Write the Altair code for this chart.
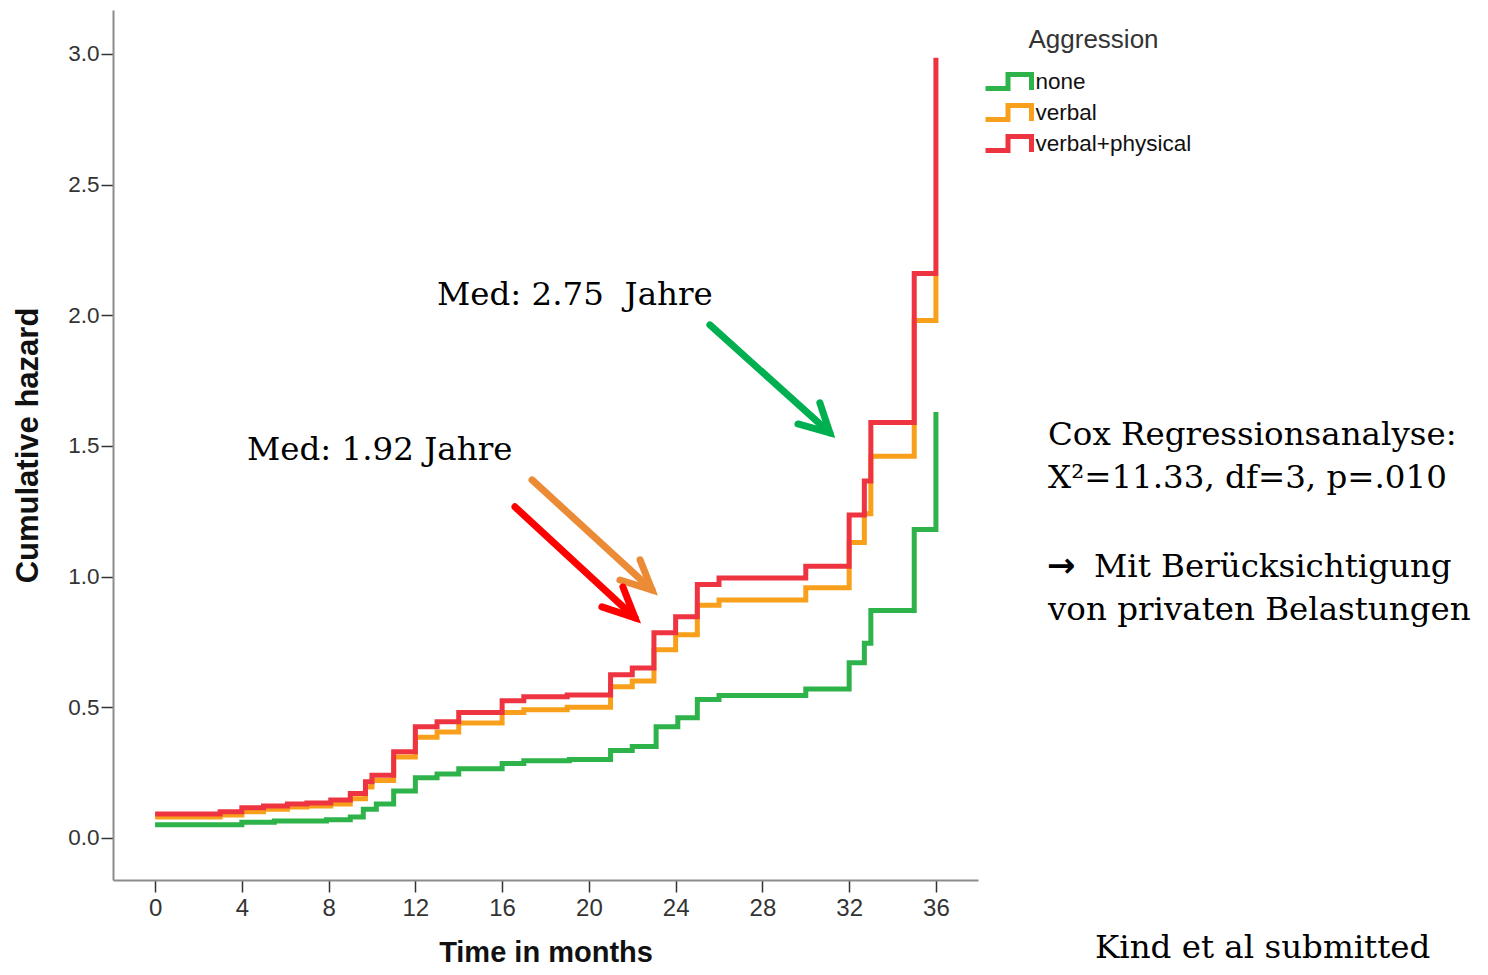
import altair as alt
import pandas as pd

# ---------------- data ----------------
series = ["none", "verbal", "verbal+physical"]
series_colors = ["#2eb34b", "#f8a01c", "#ee3440"]

none_t = [0, 4.0, 5.5, 7.9, 9.0, 9.6, 10.2, 11.0, 12.0, 13.0, 14.0, 16.0, 17.0,
          19.1, 21.0, 22.0, 23.1, 24.1, 25.0, 26.0, 30.0, 32.0, 32.7, 33.0, 35.0, 36.0]
none_v = [0.05, 0.06, 0.065, 0.07, 0.08, 0.11, 0.13, 0.18, 0.23, 0.245, 0.265, 0.285, 0.295,
          0.30, 0.335, 0.35, 0.425, 0.46, 0.53, 0.545, 0.57, 0.67, 0.745, 0.87, 1.18, 1.63]

verbal_t = [0, 3.0, 4.0, 5.0, 6.1, 7.0, 8.1, 9.0, 9.7, 10.0, 11.0, 12.0, 13.0, 14.0, 16.0,
            17.0, 19.0, 21.0, 22.0, 23.0, 24.0, 25.0, 26.0, 30.0, 32.0, 32.7, 33.0, 35.0, 36.0]
verbal_v = [0.08, 0.088, 0.10, 0.11, 0.118, 0.122, 0.13, 0.15, 0.195, 0.22, 0.31, 0.385, 0.405,
            0.44, 0.48, 0.49, 0.50, 0.578, 0.60, 0.72, 0.777, 0.89, 0.91, 0.957, 1.13, 1.24,
            1.46, 1.98, 2.15]

vp_t = [0, 3.0, 4.0, 5.0, 6.1, 7.0, 8.1, 9.0, 9.7, 10.0, 11.0, 12.0, 13.0, 14.0, 16.0,
        17.0, 19.0, 21.0, 22.0, 23.0, 24.0, 25.0, 26.0, 30.0, 32.0, 32.7, 33.0, 35.0, 36.0]
vp_v = [0.092, 0.10, 0.115, 0.122, 0.13, 0.134, 0.145, 0.17, 0.215, 0.24, 0.33, 0.425, 0.445,
        0.48, 0.525, 0.54, 0.547, 0.624, 0.65, 0.785, 0.846, 0.97, 0.995, 1.04, 1.236, 1.366,
        1.59, 2.16, 2.985]

x_ticks = [0, 4, 8, 12, 16, 20, 24, 28, 32, 36]
y_ticks = [0.0, 0.5, 1.0, 1.5, 2.0, 2.5, 3.0]

# annotation arrows (data coordinates): shaft start, tip, two barb ends
arrow_names = ["green", "orange", "red"]
arrow_colors = ["#00b050", "#ec8b36", "#ff0000"]
arrow_start_t = [25.58, 17.38, 16.59]
arrow_start_v = [1.963, 1.370, 1.267]
arrow_tip_t = [31.11, 22.91, 22.13]
arrow_tip_v = [1.550, 0.949, 0.842]
arrow_barb1_t = [30.65, 22.36, 21.57]
arrow_barb1_v = [1.665, 1.064, 0.960]
arrow_barb2_t = [29.64, 21.43, 20.60]
arrow_barb2_v = [1.584, 0.987, 0.884]

ann_text = ["Med: 2.75\u00a0\u00a0Jahre", "Med: 1.92 Jahre", "Cox Regressionsanalyse:",
            "X\u00b2=11.33, df=3, p=.010", "Mit Berücksichtigung",
            "von privaten Belastungen", "Kind et al submitted"]
ann_left = [437, 247, 1048, 1048, 1094, 1048, 1095]
ann_base = [305, 460, 445, 488, 577, 620, 958]

arrow_glyph = "\u2192"
arrow_glyph_left = 1047
arrow_glyph_base = 577

# ---------------- build tables ----------------
rows = []
for name, ts, vs in zip(series, [none_t, verbal_t, vp_t], [none_v, verbal_v, vp_v]):
    for i, (t, v) in enumerate(zip(ts, vs)):
        rows.append({"group": name, "t": t, "h": v, "i": i})
df = pd.DataFrame(rows)

PLOT_LEFT, PLOT_TOP = 113, 10
W, H = 865, 870

x_scale = alt.Scale(domain=[-1.94, 37.94], nice=False, zero=False)
y_scale = alt.Scale(domain=[-0.161, 3.168], nice=False, zero=False)

# step-shaped legend glyph; symbolSize 400 -> unit = 10px
sym_path = "M-2.35,0.7L-0.1,0.7L-0.1,-0.7L2.25,-0.7L2.25,0.85"

lines = alt.Chart(df).mark_line(interpolate="step-after", strokeWidth=5).encode(
    x=alt.X("t:Q", scale=x_scale,
            axis=alt.Axis(values=x_ticks, title="Time in months", format="d",
                          labelFont="Liberation Sans", labelFontSize=24, labelPadding=4,
                          titleFont="Liberation Sans", titleFontSize=29,
                          titleFontWeight="bold",
                          titleX=W / 2, titleY=81, titleBaseline="alphabetic")),
    y=alt.Y("h:Q", scale=y_scale,
            axis=alt.Axis(values=y_ticks, title="Cumulative hazard", format=".1f",
                          labelFont="Liberation Sans", labelFontSize=22.5, labelPadding=2,
                          titleFont="Liberation Sans", titleFontSize=31,
                          titleFontWeight="bold", titleX=-85, titleY=H / 2,
                          titleAngle=270, titleBaseline="middle", titleAlign="center")),
    color=alt.Color("group:N", scale=alt.Scale(domain=series, range=series_colors),
                    legend=alt.Legend(title="Aggression", orient="none",
                                      legendX=996.5 - PLOT_LEFT, legendY=27 - PLOT_TOP,
                                      titleFont="Liberation Sans", titleFontSize=26,
                                      titleFontWeight="normal", titleColor="#333",
                                      titleAnchor="middle", titlePadding=16,
                                      labelFont="Liberation Sans", labelFontSize=22.5,
                                      labelColor="#111", labelOffset=14,
                                      symbolType=sym_path, symbolSize=400,
                                      symbolStrokeWidth=5, rowPadding=-9, padding=0)),
    order="i:Q",
)

layers = [lines]

for k, name in enumerate(arrow_names):
    adf = pd.DataFrame({
        "seg": ["shaft", "shaft", "head", "head", "head"],
        "k": [0, 1, 0, 1, 2],
        "t": [arrow_start_t[k], arrow_tip_t[k], arrow_barb1_t[k], arrow_tip_t[k], arrow_barb2_t[k]],
        "h": [arrow_start_v[k], arrow_tip_v[k], arrow_barb1_v[k], arrow_tip_v[k], arrow_barb2_v[k]],
    })
    layers.append(
        alt.Chart(adf).mark_line(color=arrow_colors[k], strokeWidth=7, strokeCap="round",
                                 strokeJoin="miter").encode(
            x=alt.X("t:Q", scale=x_scale),
            y=alt.Y("h:Q", scale=y_scale),
            detail="seg:N",
            order="k:Q",
        )
    )

for txt, lx, by in zip(ann_text, ann_left, ann_base):
    layers.append(
        alt.Chart(pd.DataFrame({"label": [txt]})).mark_text(
            align="left", baseline="alphabetic", font="DejaVu Serif", fontSize=32.5,
            color="#000000").encode(
            text="label:N",
            x=alt.value(lx - PLOT_LEFT),
            y=alt.value(by - PLOT_TOP),
        )
    )

layers.append(
    alt.Chart(pd.DataFrame({"label": [arrow_glyph]})).mark_text(
        align="left", baseline="alphabetic", font="DejaVu Sans", fontSize=34,
        fontWeight="bold", color="#000000").encode(
        text="label:N",
        x=alt.value(arrow_glyph_left - PLOT_LEFT),
        y=alt.value(arrow_glyph_base - PLOT_TOP),
    )
)

chart = alt.layer(*layers).properties(
    width=W, height=H,
    autosize=alt.AutoSizeParams(type="none"),
    padding={"left": PLOT_LEFT - 8, "top": PLOT_TOP - 8, "right": 500, "bottom": 87},
    background="white",
).configure_view(stroke=None).configure_axis(
    grid=False, domainColor="#8c8c8c", domainWidth=2, tickColor="#333333",
    tickWidth=1.5, tickSize=12, labelColor="#333333", titleColor="#111111",
)

chart.save("out.html", embed_options={"renderer": "svg", "actions": False})
